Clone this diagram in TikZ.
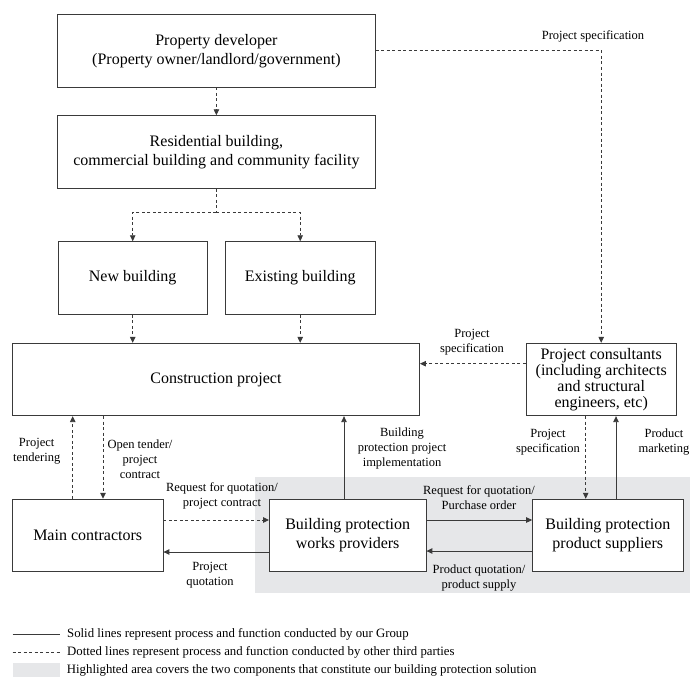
\documentclass[tikz,border=0pt]{standalone}
\usepackage{fontspec}
\setmainfont{Liberation Serif}
\usetikzlibrary{arrows.meta}
\usetikzlibrary{calc}
\definecolor{hilite}{HTML}{E6E7E9}
\definecolor{linegray}{HTML}{3A3A3A}

\begin{document}
\begin{tikzpicture}[x=1pt,y=-1pt,
    every node/.style={black},
    box/.style={draw=linegray,line width=0.9pt,fill=white,align=center,inner sep=0pt,
        minimum width=150pt,minimum height=72.6pt,font=\fontsize{16}{19}\selectfont},
    lbl/.style={align=center,inner sep=0pt,font=\fontsize{12.5}{15}\selectfont},
    keylbl/.style={lbl,anchor=west,font=\fontsize{12.8}{15}\selectfont},
    line/.style={draw=linegray,line width=0.9pt},
    dline/.style={line,dash pattern=on 3pt off 2.5pt},
    flow/.style={line,-{Triangle[length=6pt,width=5.5pt]}},
    dflow/.style={flow,dash pattern=on 3pt off 2.5pt}]
    \useasboundingbox (0,0) rectangle (690,677);
    \fill[hilite] (254.8,476.7) rectangle (690,593.3);

    \node[box,minimum width=317.3pt] (dev) at (216.4,50.7)
        {Property developer\\(Property owner/landlord/government)};
    \node[box,minimum width=317.3pt] (res) at (216.4,152)
        {Residential building,\\commercial building and community facility};
    \node[box,minimum width=149.3pt] (newb) at (132.7,278) {New building};
    \node[box,minimum width=149.6pt] (exist) at (300.2,278) {Existing building};
    \node[box,minimum width=407.2pt,minimum height=72.4pt] (constr) at (215.9,379.5)
        {Construction project};
    \node[box,minimum width=150.5pt,minimum height=72.4pt,font=\fontsize{16}{16}\selectfont]
        (cons) at (601.2,379.5)
        {Project consultants\\(including architects\\and structural\\engineers, etc)};
    \node[box,minimum width=150.5pt] (mainc) at (87.7,535.5) {Main contractors};
    \node[box,minimum width=156.5pt] (works) at (347.7,535.5)
        {Building protection\\works providers};
    \node[box,minimum width=150.4pt] (supp) at (607.8,535.5)
        {Building protection\\product suppliers};

    \draw[dflow] (dev.south) -- (res.north);
    \coordinate (split) at (216.4,212.3);
    \draw[dline] (res.south) -- (split);
    \draw[dflow] (split) -| (newb.north);
    \draw[dflow] (split) -| (exist.north);
    \draw[dflow] (newb.south) -- (newb.south |- constr.north);
    \draw[dflow] (exist.south) -- (exist.south |- constr.north);

    \draw[dflow] (dev.east) -| (cons.north);
    \node[lbl] (specA) at (593,36) {Project specification};
    \draw[dflow] (cons.west |- 0,363.7) -- (constr.east |- 0,363.7);
    \node[lbl] (specB) at (472,342) {Project\\specification};

    \draw[dflow] (mainc.north -| 72.7,0) -- (constr.south -| 72.7,0);
    \node[lbl] (tender) at (36.7,451.5) {Project\\tendering};
    \draw[dflow] (constr.south -| 103,0) -- (mainc.north -| 103,0);
    \node[lbl] (open) at (140,459) {Open tender/\\project\\contract};

    \draw[flow] (works.north -| 344,0) -- (constr.south -| 344,0);
    \node[lbl] (impl) at (402,448) {Building\\protection project\\implementation};

    \draw[dflow] (cons.south -| 585.7,0) -- (supp.north -| 585.7,0);
    \node[lbl] (specC) at (548,441.7) {Project\\specification};
    \draw[flow] (supp.north -| 616,0) -- (cons.south -| 616,0);
    \node[lbl] (mkt) at (664,441.7) {Product\\marketing};

    \draw[dflow] (mainc.east |- 0,520) -- (works.west |- 0,520);
    \node[lbl] (rfqA) at (222,495.5) {Request for quotation/\\project contract};
    \draw[flow] (works.west |- 0,552) -- (mainc.east |- 0,552);
    \node[lbl] (quote) at (210,575) {Project\\quotation};

    \draw[flow] (works.east |- 0,520) -- (supp.west |- 0,520);
    \node[lbl] (rfqB) at (479,498) {Request for quotation/\\Purchase order};
    \draw[flow] (supp.west |- 0,551) -- (works.east |- 0,551);
    \node[lbl] (supply) at (479,578.5) {Product quotation/\\product supply};

    \draw[line] (12.7,634) -- (60,634) node[keylbl,xshift=6.7pt] (keyA)
        {Solid lines represent process and function conducted by our Group};
    \draw[dline] (12.7,652) -- (60,652) node[keylbl,xshift=6.7pt] (keyB)
        {Dotted lines represent process and function conducted by other third parties};
    \fill[hilite] (12.7,663) rectangle (60,677);
    \node[keylbl] (keyC) at (66.7,670)
        {Highlighted area covers the two components that constitute our building protection solution};
\end{tikzpicture}
\end{document}
